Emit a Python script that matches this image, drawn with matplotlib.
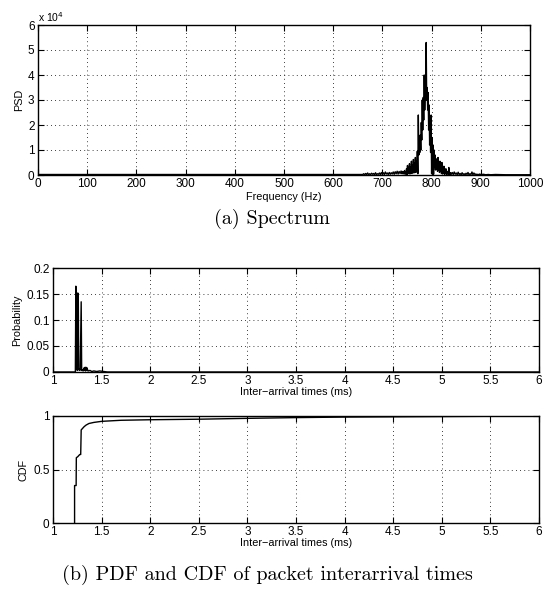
import numpy as np
import matplotlib.pyplot as plt

plt.rcParams['font.family'] = ['Liberation Sans', 'DejaVu Sans']

# Spectrum (PSD in units of 1e4)
freq = [0, 100, 200, 300, 400, 500, 600, 650,
        660, 662, 664, 666, 668, 670, 672, 674, 676, 678, 680, 682, 684, 686, 688, 690,
        692, 694, 696, 698, 700, 702, 704, 706, 708, 710, 712, 714, 716, 718, 720, 722,
        724, 726, 728, 730, 732, 734, 736, 738,
        740, 741, 742, 743, 744, 745, 746, 747, 748, 749, 750, 751, 752, 753, 754, 755,
        756, 757, 758, 759, 760, 761, 762, 763, 764, 765, 766, 767, 768, 769, 770, 771,
        772, 773, 774, 775, 776, 777, 778, 779, 780, 781, 782, 783, 784, 785, 786, 787,
        788, 789, 790, 791, 792, 793, 794, 795, 796, 797, 798, 799, 800, 801, 802, 803,
        804, 805, 806, 807, 808, 809, 810, 811, 812, 813, 814, 815, 816, 817, 818, 819,
        820, 821, 822, 823, 824, 825, 826, 827, 828, 829, 830, 831, 832, 833, 834, 835,
        836, 837, 838, 839, 840,
        842, 844, 846, 848, 850, 852, 854, 856, 858, 860, 862, 864, 866, 868, 870, 872,
        874, 876, 878, 880, 882, 884, 886, 888, 890, 892, 894, 896, 898, 900,
        905, 910, 915, 920, 930, 950, 1000]
psd = [0.02, 0.02, 0.02, 0.02, 0.02, 0.02, 0.02, 0.02,
       0.02, 0.05, 0.01, 0.06, 0.02, 0.08, 0.01, 0.05, 0.02, 0.07, 0.03, 0.06, 0.01, 0.09, 0.02, 0.05,
       0.03, 0.08, 0.01, 0.10, 0.03, 0.09, 0.02, 0.12, 0.04, 0.08, 0.02, 0.10, 0.03, 0.09, 0.04, 0.12,
       0.03, 0.13, 0.05, 0.15, 0.04, 0.14, 0.06, 0.16,
       0.05, 0.14, 0.06, 0.12, 0.04, 0.18, 0.05, 0.10, 0.03, 0.25, 0.02, 0.38, 0.05, 0.30, 0.08, 0.45,
       0.04, 0.32, 0.10, 0.55, 0.06, 0.40, 0.12, 0.62, 0.08, 0.48, 0.15, 0.70, 0.10, 0.55, 0.20, 0.95,
       0.05, 2.40, 0.80, 1.30, 0.90, 1.60, 1.00, 2.10, 1.40, 3.00, 1.80, 3.10, 2.20, 4.00, 2.60, 3.40,
       3.00, 5.30, 3.00, 3.50, 2.60, 3.30, 1.80, 2.80, 1.20, 1.90, 0.90, 2.40, 0.05, 1.50, 0.04, 1.20,
       0.03, 1.00, 0.30, 0.80, 0.20, 0.65, 0.25, 0.55, 0.15, 0.70, 0.20, 0.45, 0.10, 0.55, 0.15, 0.40,
       0.06, 0.50, 0.04, 0.30, 0.08, 0.35, 0.03, 0.20, 0.06, 0.25, 0.02, 0.15, 0.05, 0.12, 0.02, 0.30,
       0.03, 0.10, 0.02, 0.08, 0.03,
       0.10, 0.02, 0.12, 0.03, 0.08, 0.01, 0.11, 0.02, 0.06, 0.01, 0.09, 0.02, 0.05, 0.01, 0.07, 0.02,
       0.10, 0.01, 0.05, 0.02, 0.12, 0.01, 0.08, 0.02, 0.04, 0.01, 0.03, 0.01, 0.04, 0.01,
       0.03, 0.01, 0.02, 0.01, 0.02, 0.01, 0.01]

# PDF of inter-arrival times (ms)
pdf_x = [1.00, 1.23, 1.235, 1.24, 1.245, 1.25, 1.255, 1.26, 1.265, 1.27, 1.275, 1.28,
         1.29, 1.295, 1.30, 1.31, 1.32, 1.325, 1.33, 1.335, 1.34, 1.345, 1.35, 1.36,
         1.38, 1.40, 1.42, 1.45, 1.48, 1.52, 1.56, 6.00]
pdf_y = [0, 0, 0.165, 0.005, 0.01, 0.003, 0.152, 0.15, 0.004, 0.006, 0.003, 0.004,
         0.135, 0.003, 0.004, 0.002, 0.008, 0.003, 0.009, 0.002, 0.009, 0.003, 0.008, 0.002,
         0.003, 0.001, 0.002, 0.001, 0.002, 0.001, 0, 0]

# CDF
cdf_x = [1.222, 1.222, 1.238, 1.240, 1.255, 1.275, 1.285, 1.290, 1.30, 1.32, 1.34, 1.37,
         1.42, 1.50, 1.70, 2.0, 2.5, 3.0, 3.5, 4.0, 5.0, 6.0]
cdf_y = [0, 0.35, 0.35, 0.61, 0.62, 0.64, 0.64, 0.87, 0.88, 0.90, 0.915, 0.93,
         0.94, 0.95, 0.96, 0.965, 0.97, 0.978, 0.985, 0.99, 0.995, 1.0]

ms_ticks = ['1', '1.5', '2', '2.5', '3', '3.5', '4', '4.5', '5', '5.5', '6']

W, H = 548, 590
fig = plt.figure(figsize=(W / 100, H / 100), dpi=100)

def make_ax(x0, x1, y0, y1):
    return fig.add_axes([x0 / W, 1 - y1 / H, (x1 - x0) / W, (y1 - y0) / H])

def style(ax):
    ax.tick_params(direction='in', length=4, width=0.8, top=True, right=True,
                   labelsize=8.5, pad=2.5, colors='k')
    ax.grid(True, color='k', linestyle=(0, (1, 4)), linewidth=0.6)
    for s in ax.spines.values():
        s.set_linewidth(1.0)

ax1 = make_ax(38, 530, 25, 175)
ax1.plot(freq, psd, color='k', lw=1.0)
ax1.set_xlim(0, 1000)
ax1.set_ylim(0, 6)
ax1.set_xticks(range(0, 1001, 100))
ax1.set_yticks(range(0, 7))
ax1.set_xlabel('Frequency (Hz)', fontsize=7.8, labelpad=1)
ax1.set_ylabel('PSD', fontsize=7.8, labelpad=3)
style(ax1)
fig.text(38 / W, 1 - 17 / H, r'x 10$^4$', fontsize=7.5, va='center', ha='left')

ax2 = make_ax(53, 539, 268, 372)
ax2.plot(pdf_x, pdf_y, color='k', lw=1.0)
ax2.set_xlim(1, 6)
ax2.set_ylim(0, 0.2)
ax2.set_xticks(np.arange(1, 6.01, 0.5))
ax2.set_xticklabels(ms_ticks)
ax2.set_yticks([0, 0.05, 0.1, 0.15, 0.2])
ax2.set_yticklabels(['0', '0.05', '0.1', '0.15', '0.2'])
ax2.set_xlabel('Inter\u2212arrival times (ms)', fontsize=7.8, labelpad=0)
ax2.set_ylabel('Probability', fontsize=7.8, labelpad=3)
style(ax2)

ax3 = make_ax(53, 539, 416, 523)
ax3.plot(cdf_x, cdf_y, color='k', lw=1.0)
ax3.set_xlim(1, 6)
ax3.set_ylim(0, 1)
ax3.set_xticks(np.arange(1, 6.01, 0.5))
ax3.set_xticklabels(ms_ticks)
ax3.set_yticks([0, 0.5, 1])
ax3.set_yticklabels(['0', '0.5', '1'])
ax3.set_xlabel('Inter\u2212arrival times (ms)', fontsize=7.8, labelpad=0)
ax3.set_ylabel('CDF', fontsize=7.8, labelpad=3)
style(ax3)

fig.text(272 / W, 1 - 219 / H, '(a) Spectrum', fontsize=14.5, family='cmr10',
         ha='center', va='center')
fig.text(267 / W, 1 - 575 / H, '(b) PDF and CDF of packet interarrival times',
         fontsize=14.5, family='cmr10', ha='center', va='center')

fig.savefig('out.png', dpi=100)
